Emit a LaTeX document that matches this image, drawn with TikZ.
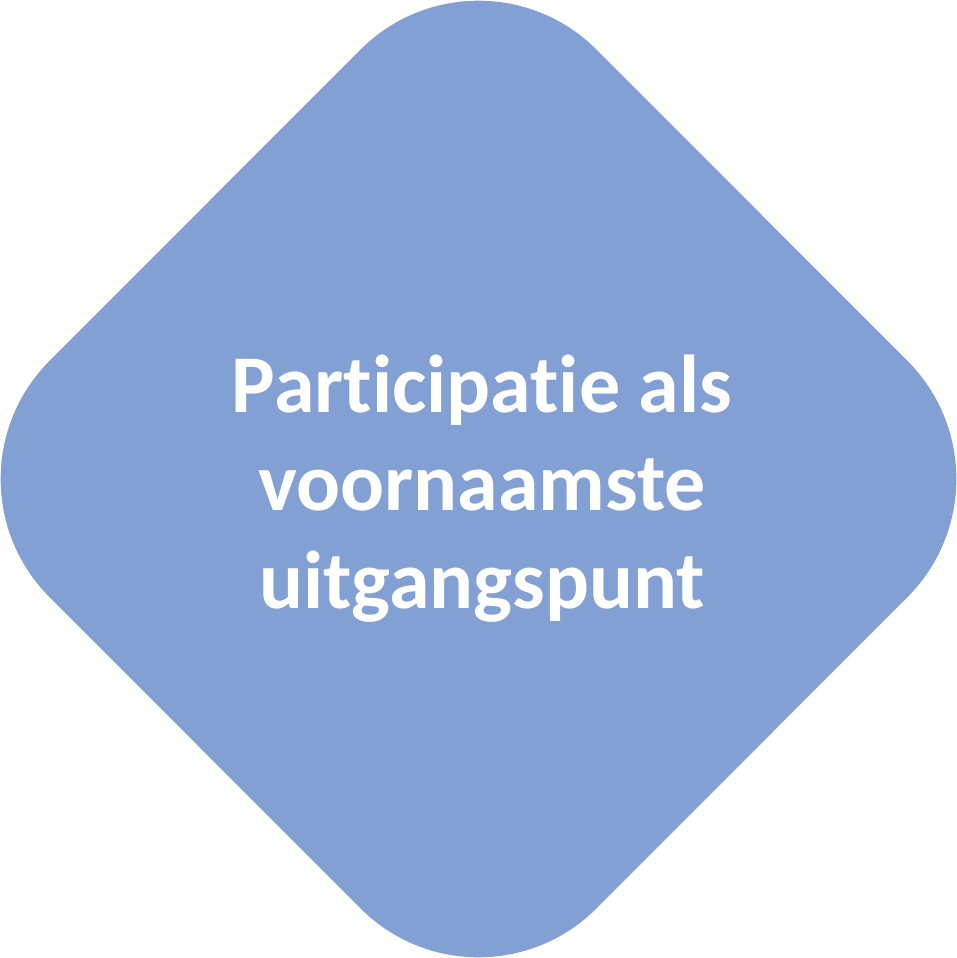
\documentclass[tikz,border=0pt]{standalone}
\usepackage{fontspec}
\setmainfont{Carlito}[RawFeature={-liga,-dlig,-clig}]
\definecolor{shapeblue}{RGB}{131,160,212}
\tikzset{
  diamondfill/.style={fill=shapeblue, rounded corners=167pt},
  labeltext/.style={text=white, font=\fontsize{82}{98}\selectfont\bfseries, align=center, inner sep=0pt}
}
\begin{document}
\begin{tikzpicture}[x=1pt,y=-1pt]
\useasboundingbox (0,0) rectangle (957,958);
\fill[diamondfill] (478.5,-68.5) -- (1025.5,479) -- (478.5,1026.5) -- (-68.5,479) -- cycle;
\node[labeltext, anchor=base] (label) at (482,608) {Participatie als\\voornaamste\\uitgangspunt};
\end{tikzpicture}
\end{document}
